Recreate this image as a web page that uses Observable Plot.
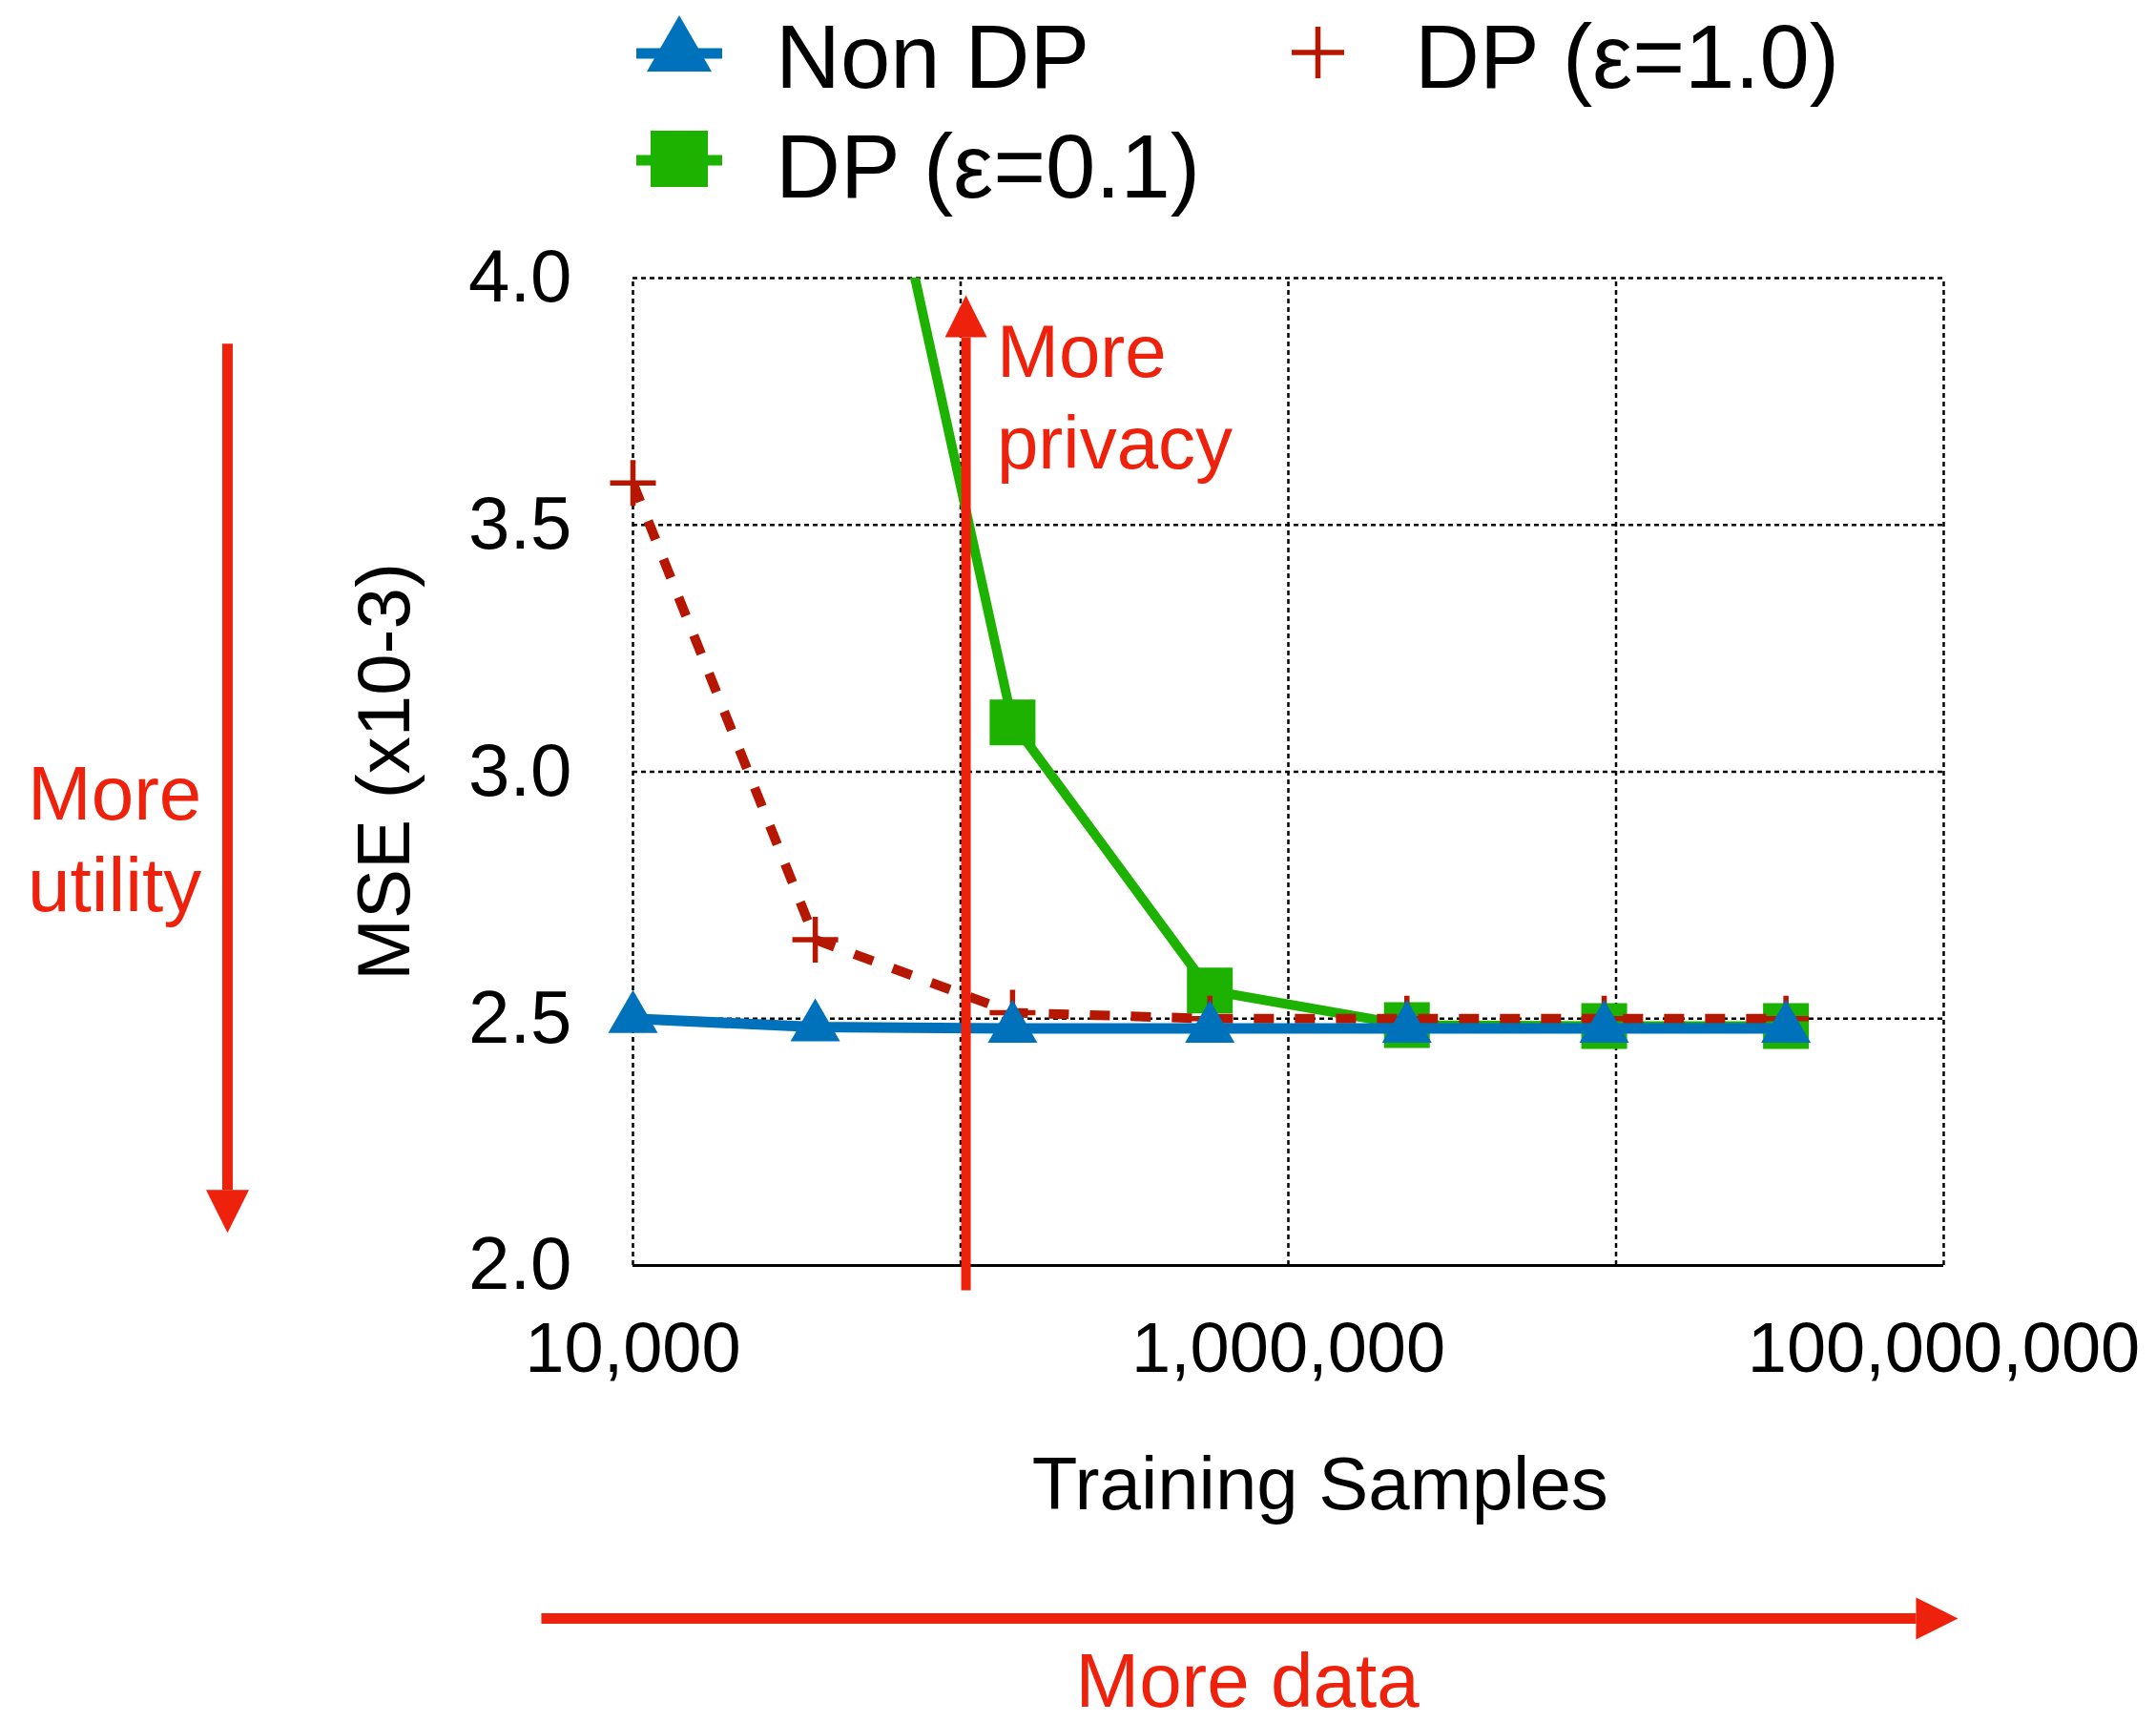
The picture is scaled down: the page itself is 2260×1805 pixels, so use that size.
<!DOCTYPE html>
<html>
<head>
<meta charset="utf-8">
<script src="https://cdn.jsdelivr.net/npm/d3@7"></script>
<script src="https://cdn.jsdelivr.net/npm/@observablehq/plot@0.6"></script>
<style>
  html, body { margin: 0; padding: 0; background: #ffffff; }
  #wrap { width: 2260px; height: 1805px; position: relative; overflow: hidden; font-family: "Liberation Sans", Arial, Helvetica, sans-serif; }
  #legend { display: block; }
  #chart svg { display: block; }
</style>
</head>
<body>
<div id="wrap">
  <svg id="legend" width="2260" height="255"></svg>
  <div id="chart"></div>
</div>
<script>
// ---------------- data ----------------
const samples  = [10000, 36000, 144000, 576000, 2300000, 9200000, 33000000];
const nonDP    = [2.50, 2.483, 2.48, 2.48, 2.48, 2.48, 2.48];
const dpEps01  = [null, 4.92, 3.10, 2.557, 2.487, 2.485, 2.485];
const dpEps10  = [3.585, 2.66, 2.512, 2.50, 2.50, 2.50, 2.50];
const seriesNames = ["Non DP", "DP (\u03b5=0.1)", "DP (\u03b5=1.0)"];
const xTickValues = [1e4, 1e6, 1e8];
const xGridValues = [1e4, 1e5, 1e6, 1e7, 1e8];
const yTickValues = [2.0, 2.5, 3.0, 3.5, 4.0];
const yGridValues = [2.5, 3.0, 3.5, 4.0];
const xLabel = "Training Samples";
const yLabel = "MSE (x10-3)";

// annotations (data units)
const arrowUp    = [{x1: 1.038e5, y1: 1.95,  x2: 1.038e5, y2: 3.88}];
const arrowDown  = [{x1: 579,     y1: 3.867, x2: 579,     y2: 2.153}];
const arrowRight = [{x1: 5253,    y1: 1.285, x2: 8.23e7,  y2: 1.285}];
const notePrivacy = [{x: 1.29e5,  y: 3.615, text: "More\nprivacy"}];
const noteUtility = [{x: 262,     y: 2.717, text: "More\nutility"}];
const noteData    = [{x: 7.5e5,   y: 1.107, text: "More data"}];
const xLabelPos   = [{x: 1.25e6,  y: 1.507, text: xLabel}];
const yLabelPos   = [{x: 1762,    y: 3.0,   text: yLabel}];

// ---------------- styles ----------------
const BLUE = "#0072BB", GREEN = "#1DB100", DARKRED = "#B51700", RED = "#EE220C";

const sym = (f) => ({draw(ctx, size) { f(ctx, Math.sqrt(size / Math.PI)); }});
const headUp    = sym((c, r) => { c.moveTo(0, -2 * r); c.lineTo(r, 0); c.lineTo(-r, 0); c.closePath(); });
const headDown  = sym((c, r) => { c.moveTo(0, 2 * r); c.lineTo(r, 0); c.lineTo(-r, 0); c.closePath(); });
const headRight = sym((c, r) => { c.moveTo(2 * r, 0); c.lineTo(0, -r); c.lineTo(0, r); c.closePath(); });
const triUp     = sym((c, r) => { const h = Math.sqrt(3) * r; c.moveTo(0, -2 * h / 3); c.lineTo(r, h / 3); c.lineTo(-r, h / 3); c.closePath(); });
const squareSym = sym((c, r) => { c.rect(-r, -r, 2 * r, 2 * r); });
const plusSym   = sym((c, r) => { c.moveTo(-r, 0); c.lineTo(r, 0); c.moveTo(0, -r); c.lineTo(0, r); });

const rows = (ys) => samples.map((s, i) => ({samples: s, mse: ys[i]})).filter(d => d.mse != null);
const dNon = rows(nonDP), d01 = rows(dpEps01), d10 = rows(dpEps10);

const FONT = "'Liberation Sans', Arial, Helvetica, sans-serif";

// ---------------- legend ----------------
(function legend() {
  const svg = d3.select("#legend");
  // Non DP
  svg.append("line").attr("x1", 667).attr("x2", 757).attr("y1", 56).attr("y2", 56)
     .attr("stroke", BLUE).attr("stroke-width", 11);
  svg.append("path").attr("d", "M712,16L746,75L678,75Z").attr("fill", BLUE);
  svg.append("text").attr("x", 813).attr("y", 92).text(seriesNames[0]);
  // DP 1.0
  svg.append("path").attr("d", "M1354,55H1409M1381.5,28V82").attr("stroke", DARKRED)
     .attr("stroke-width", 5.5).attr("fill", "none");
  svg.append("text").attr("x", 1483).attr("y", 92).text(seriesNames[2]);
  // DP 0.1
  svg.append("line").attr("x1", 667).attr("x2", 757).attr("y1", 168).attr("y2", 168)
     .attr("stroke", GREEN).attr("stroke-width", 11);
  svg.append("rect").attr("x", 682).attr("y", 137).attr("width", 60).attr("height", 59).attr("fill", GREEN);
  svg.append("text").attr("x", 813).attr("y", 207).text(seriesNames[1]);
  svg.selectAll("text").attr("font-size", 94).attr("font-family", FONT).attr("fill", "#000");
})();

// ---------------- chart ----------------
const grid = {stroke: "#000", strokeWidth: 2.5, strokeDasharray: "5,4", strokeOpacity: 1};

const chart = Plot.plot({
  width: 2260,
  height: 1550,
  marginLeft: 663,
  marginRight: 223,
  marginTop: 36,
  marginBottom: 479,
  x: {type: "log", domain: [1e4, 1e8]},
  y: {domain: [2, 4]},
  style: {fontFamily: FONT, background: "#ffffff", color: "#000", overflow: "visible"},
  marks: [
    Plot.ruleX(xGridValues, {x: d => d, y1: 2, y2: 4, ...grid}),
    Plot.ruleY(yGridValues, {y: d => d, x1: 1e4, x2: 1e8, ...grid}),
    Plot.ruleY([2], {x1: 1e4, x2: 1e8, stroke: "#000", strokeWidth: 3}),
    Plot.axisX(xTickValues, {tickSize: 0, tickPadding: 59, tickFormat: d3.format(","), fontSize: 74, label: null}),
    Plot.axisY(yTickValues, {tickSize: 0, tickPadding: 64, tickFormat: d3.format(".1f"), fontSize: 78, label: null}),
    Plot.text(xLabelPos, {x: "x", y: "y", text: "text", fontSize: 78, lineAnchor: "bottom", textAnchor: "middle", fill: "#000"}),
    Plot.text(yLabelPos, {x: "x", y: "y", text: "text", fontSize: 78, lineAnchor: "middle", textAnchor: "middle", rotate: -90, fill: "#000"}),

    // DP eps=0.1
    Plot.line(d01, {x: "samples", y: "mse", stroke: GREEN, strokeWidth: 10, strokeLinejoin: "miter", strokeLinecap: "butt", clip: true}),
    Plot.dot(d01.filter(d => d.mse <= 4), {x: "samples", y: "mse", r: 24, symbol: squareSym, fill: GREEN, stroke: "none"}),
    // DP eps=1.0
    Plot.line(d10, {x: "samples", y: "mse", stroke: DARKRED, strokeWidth: 10, strokeDasharray: "21,22", strokeLinecap: "butt", strokeLinejoin: "miter", clip: true}),
    Plot.dot(d10, {x: "samples", y: "mse", r: 24, symbol: plusSym, stroke: DARKRED, strokeWidth: 5.5, fill: "none"}),
    // Non DP
    Plot.line(dNon, {x: "samples", y: "mse", stroke: BLUE, strokeWidth: 11, strokeLinecap: "butt", clip: true}),
    Plot.dot(dNon, {x: "samples", y: "mse", r: 26, symbol: triUp, fill: BLUE, stroke: "none"}),

    // annotations
    Plot.link(arrowUp, {x1: "x1", y1: "y1", x2: "x2", y2: "y2", stroke: RED, strokeWidth: 10, strokeLinecap: "butt"}),
    Plot.dot(arrowUp, {x: "x2", y: "y2", r: 22, symbol: headUp, fill: RED, stroke: "none"}),
    Plot.link(arrowDown, {x1: "x1", y1: "y1", x2: "x2", y2: "y2", stroke: RED, strokeWidth: 11, strokeLinecap: "butt"}),
    Plot.dot(arrowDown, {x: "x2", y: "y2", r: 22.5, symbol: headDown, fill: RED, stroke: "none"}),
    Plot.link(arrowRight, {x1: "x1", y1: "y1", x2: "x2", y2: "y2", stroke: RED, strokeWidth: 11, strokeLinecap: "butt"}),
    Plot.dot(arrowRight, {x: "x2", y: "y2", r: 22, symbol: headRight, fill: RED, stroke: "none"}),
    Plot.text(notePrivacy, {x: "x", y: "y", text: "text", fontSize: 78, lineHeight: 1.23, lineAnchor: "bottom", textAnchor: "start", fill: RED}),
    Plot.text(noteUtility, {x: "x", y: "y", text: "text", fontSize: 80, lineHeight: 1.2, lineAnchor: "bottom", textAnchor: "middle", fill: RED}),
    Plot.text(noteData, {x: "x", y: "y", text: "text", fontSize: 80, lineAnchor: "bottom", textAnchor: "middle", fill: RED})
  ]
});
document.getElementById("chart").appendChild(chart);
</script>
</body>
</html>
